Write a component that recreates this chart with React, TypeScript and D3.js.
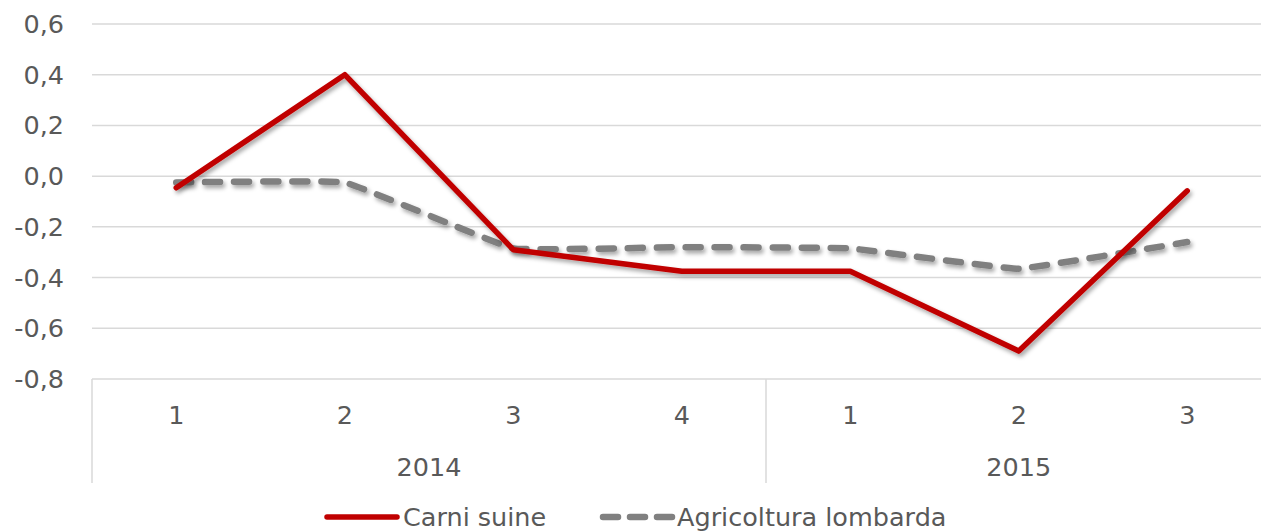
import React from "react";
import * as d3 from "d3";

const categories = ["1", "2", "3", "4", "1", "2", "3"];
const years = [
  { label: "2014", start: 0, end: 4 },
  { label: "2015", start: 4, end: 7 },
];
const carniSuine = [-0.046, 0.4, -0.29, -0.375, -0.375, -0.69, -0.058];
const agricolturaLombarda = [-0.025, -0.025, -0.285, -0.28, -0.285, -0.365, -0.26];
const yTicks = [0.6, 0.4, 0.2, 0.0, -0.2, -0.4, -0.6, -0.8];

const W = 1261;
const H = 531;
const FONT = "'DejaVu Sans', Verdana, sans-serif";
const TEXT = "#595959";
const GRID = "#d9d9d9";
const RED = "#C00000";
const GREY = "#808080";

export default function App() {
  const left = 92;
  const band = 168.5;
  const x = d3
    .scaleBand<number>()
    .domain(d3.range(categories.length))
    .range([left, left + band * categories.length]);
  const y = d3.scaleLinear().domain([-0.8, 0.6]).range([379, 24]);
  const cx = (i: number) => (x(i) as number) + x.bandwidth() / 2;

  const redLine = d3
    .line<number>()
    .x((_, i) => cx(i))
    .y((d) => y(d))(carniSuine) as string;
  const greyLine = d3
    .line<number>()
    .x((_, i) => cx(i))
    .y((d) => y(d))
    .curve(d3.curveCardinal.tension(0.78))(agricolturaLombarda) as string;

  const axisY = y(-0.8);
  const bottom = 483;
  const fmt = (v: number) => d3.format(".1f")(v).replace(".", ",").replace("−", "-");
  const dividers = [0, 4, 7].map((i) => (i === 7 ? left + band * 7 : (x(i) as number)));

  return (
    <div style={{ position: "absolute", left: 0, top: 0 }}>
      <svg width={W} height={H} style={{ display: "block", background: "#fff" }}>
        <defs>
          <filter id="shadow" x="-10%" y="-10%" width="120%" height="130%">
            <feDropShadow dx="2" dy="3" stdDeviation="2" floodColor="#000" floodOpacity="0.35" />
          </filter>
        </defs>
        {yTicks.map((t) => (
          <g key={t}>
            <line x1={left} x2={W + 20} y1={y(t)} y2={y(t)} stroke={GRID} strokeWidth={1.5} />
            <text
              x={64}
              y={y(t)}
              textAnchor="end"
              dominantBaseline="central"
              fontFamily={FONT}
              fontSize={25.5}
              fill={TEXT}
            >
              {fmt(t)}
            </text>
          </g>
        ))}
        {dividers.map((dx, i) => (
          <line key={i} x1={dx} x2={dx} y1={axisY} y2={bottom} stroke={GRID} strokeWidth={1.5} />
        ))}
        {categories.map((c, i) => (
          <text
            key={i}
            x={cx(i)}
            y={415}
            textAnchor="middle"
            dominantBaseline="central"
            fontFamily={FONT}
            fontSize={25.5}
            fill={TEXT}
          >
            {c}
          </text>
        ))}
        {years.map((yr) => (
          <text
            key={yr.label}
            x={((x(yr.start) as number) + left + band * yr.end) / 2}
            y={467}
            textAnchor="middle"
            dominantBaseline="central"
            fontFamily={FONT}
            fontSize={25.5}
            fill={TEXT}
          >
            {yr.label}
          </text>
        ))}
        <path
          d={greyLine}
          fill="none"
          stroke={GREY}
          strokeWidth={6.5}
          strokeDasharray="15,14"
          strokeLinecap="round"
          strokeLinejoin="round"
          filter="url(#shadow)"
        />
        <path
          d={redLine}
          fill="none"
          stroke={RED}
          strokeWidth={5.5}
          strokeLinecap="round"
          strokeLinejoin="round"
          filter="url(#shadow)"
        />
        <g>
          <line x1={327} x2={397} y1={517} y2={517} stroke={RED} strokeWidth={5.5} strokeLinecap="round" />
          <text x={403} y={517} dominantBaseline="central" fontFamily={FONT} fontSize={25.5} fill={TEXT}>
            Carni suine
          </text>
          <line
            x1={603}
            x2={672}
            y1={517}
            y2={517}
            stroke={GREY}
            strokeWidth={6.5}
            strokeDasharray="15,12"
            strokeLinecap="round"
          />
          <text x={677} y={517} dominantBaseline="central" fontFamily={FONT} fontSize={25.5} fill={TEXT}>
            Agricoltura lombarda
          </text>
        </g>
      </svg>
    </div>
  );
}
